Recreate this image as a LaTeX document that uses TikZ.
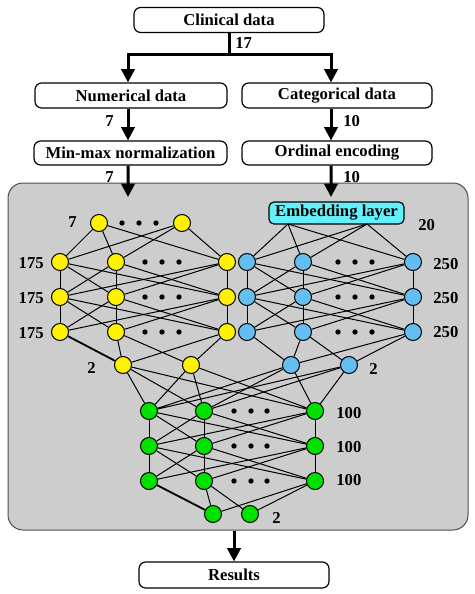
\documentclass[tikz,border=0pt]{standalone}
\usepackage{fontspec}
\setmainfont{Liberation Serif}
\usetikzlibrary{arrows.meta}
\definecolor{panelgray}{RGB}{205,205,205}
\definecolor{nodeblue}{RGB}{100,190,240}
\definecolor{embcyan}{RGB}{100,240,250}
\definecolor{nodegreen}{RGB}{0,225,0}

\begin{document}
\begin{tikzpicture}[x = 0.6pt, y = -0.6pt,
    box/.style = {draw, fill = white, rounded corners = 4pt, line width = 0.7pt, minimum height = 15pt, inner sep = 0pt, font = \bfseries},
    arr/.style = {line width = 1.8pt, -{Triangle[width = 8pt, length = 8pt]}},
    neuron/.style = {circle, draw, line width = 0.6pt, minimum size = 10.2pt, inner sep = 0pt},
    edge/.style = {line width = 0.6pt},
    lbl/.style = {font = \bfseries, inner sep = 0pt}]%
    \useasboundingbox (0, 0) rectangle (474, 594);
    \node[draw = gray!60!black, fill = panelgray, line width = 0.6pt, rounded corners = 9pt,
        minimum width = 276pt, minimum height = 208.2pt] (panel) at (238, 356.5) {};
    % boxes
    \node[box, minimum width = 114pt] (clin) at (229, 20) {Clinical data};
    \node[box, minimum width = 115.2pt] (num) at (131, 95.5) {Numerical data};
    \node[box, minimum width = 114pt] (cat) at (337, 95.5) {Categorical data};
    \node[box, minimum width = 115.8pt, minimum height = 14.4pt] (mm) at (130.5, 153) {Min-max normalization};
    \node[box, minimum width = 114pt, minimum height = 14.4pt] (ord) at (337, 153) {Ordinal encoding};
    \node[box, minimum width = 114pt, minimum height = 15.6pt] (res) at (234, 575) {Results};
    \node[box, fill = embcyan, rounded corners = 3pt, minimum width = 81pt, minimum height = 13.2pt] (emb) at (336.5, 213) {Embedding layer};
    \coordinate (split) at (229, 55);
    \coordinate (yin) at (128, 197);
    \coordinate (bin) at (331, 197);
    \coordinate (e1) at (288, 224);
    \coordinate (e2) at (367, 224);
    \draw[line width = 1.8pt] (clin) -- (split);
    \draw[arr] (split) -| ([xshift = -1.8pt]num.north);
    \draw[arr] (split) -| ([xshift = -3.6pt]cat.north);
    \draw[arr] ([xshift = -1.8pt]num.south) -- ([xshift = -1.5pt]mm.north);
    \draw[arr] ([xshift = -3.6pt]cat.south) -- ([xshift = -3.6pt]ord.north);
    \draw[arr] ([xshift = -1.5pt]mm.south) -- (yin);
    \draw[arr] ([xshift = -3.6pt]ord.south) -- (bin);
    \draw[arr] (panel.south -| res.north) -- (res.north);
    % neurons
    \node[neuron, fill = yellow] (y01) at (99, 223) {};
    \node[neuron, fill = yellow] (y02) at (182, 223) {};
    \foreach \p/\yy in {1/262, 2/297, 3/332} {
        \node[neuron, fill = yellow] (y\p1) at (60, \yy) {};
        \node[neuron, fill = yellow] (y\p2) at (116, \yy) {};
        \node[neuron, fill = yellow] (y\p3) at (227, \yy) {};
        \node[neuron, fill = nodeblue] (b\p1) at (247, \yy) {};
        \node[neuron, fill = nodeblue] (b\p2) at (303, \yy) {};
        \node[neuron, fill = nodeblue] (b\p3) at (413, \yy) {};
    }
    \node[neuron, fill = yellow] (y41) at (123, 365) {};
    \node[neuron, fill = yellow] (y42) at (191, 365) {};
    \node[neuron, fill = nodeblue] (b41) at (291, 365) {};
    \node[neuron, fill = nodeblue] (b42) at (349, 365) {};
    \foreach \p/\yy in {1/411, 2/446, 3/481} {
        \node[neuron, fill = nodegreen] (g\p1) at (149, \yy) {};
        \node[neuron, fill = nodegreen] (g\p2) at (204, \yy) {};
        \node[neuron, fill = nodegreen] (g\p3) at (315, \yy) {};
    }
    \node[neuron, fill = nodegreen] (g41) at (213, 514) {};
    \node[neuron, fill = nodegreen] (g42) at (250, 514) {};
    % dots
    \foreach \xx in {122, 139, 156} \fill (\xx, 223) circle (1.6pt);
    \foreach \yy in {262, 297, 332} \foreach \xx in {145, 162, 179, 338, 355, 372} \fill (\xx, \yy) circle (1.6pt);
    \foreach \yy in {411, 446, 481} \foreach \xx in {234, 251, 267} \fill (\xx, \yy) circle (1.6pt);
    % connections
    \foreach \j in {1, 2, 3} \draw[edge] (y01) -- (y1\j) (y02) -- (y1\j) (e1) -- (b1\j) (e2) -- (b1\j)
        (y41) -- (g1\j) (y42) -- (g1\j) (b41) -- (g1\j) (b42) -- (g1\j);
    \foreach \n in {y, b, g} {
        \foreach \p/\q in {1/2, 2/3} \foreach \i in {1, 2, 3} \foreach \j in {1, 2, 3} \draw[edge] (\n\p\i) -- (\n\q\j);
        \draw[edge] (\n32) -- (\n41) (\n32) -- (\n42) (\n33) -- (\n41) (\n33) -- (\n42);
    }
    \draw[edge, line width = 1.1pt] (y31) -- (y41) (g31) -- (g41);
    \draw[edge] (b31) -- (b41);
    % numbers
    \node[lbl, anchor = west] (n17) at (235, 43) {17};
    \node[lbl, anchor = east] (n7a) at (114, 121) {7};
    \node[lbl, anchor = west] (n10a) at (343, 121) {10};
    \node[lbl, anchor = east] (n7b) at (114, 177) {7};
    \node[lbl, anchor = west] (n10b) at (343, 177) {10};
    \node[lbl, anchor = east] (n7c) at (77, 222) {7};
    \node[lbl, anchor = east] (n175a) at (44, 263) {175};
    \node[lbl, anchor = east] (n175b) at (44, 298) {175};
    \node[lbl, anchor = east] (n175c) at (44, 333) {175};
    \node[lbl, anchor = east] (n2y) at (96, 368) {2};
    \node[lbl, anchor = west] (n20) at (418, 225) {20};
    \node[lbl, anchor = west] (n250a) at (433, 264) {250};
    \node[lbl, anchor = west] (n250b) at (433, 298) {250};
    \node[lbl, anchor = west] (n250c) at (433, 332) {250};
    \node[lbl, anchor = west] (n2b) at (369, 369) {2};
    \node[lbl, anchor = west] (n100a) at (336, 413) {100};
    \node[lbl, anchor = west] (n100b) at (336, 447) {100};
    \node[lbl, anchor = west] (n100c) at (336, 480) {100};
    \node[lbl, anchor = west] (n2g) at (272, 518) {2};
\end{tikzpicture}
\end{document}
